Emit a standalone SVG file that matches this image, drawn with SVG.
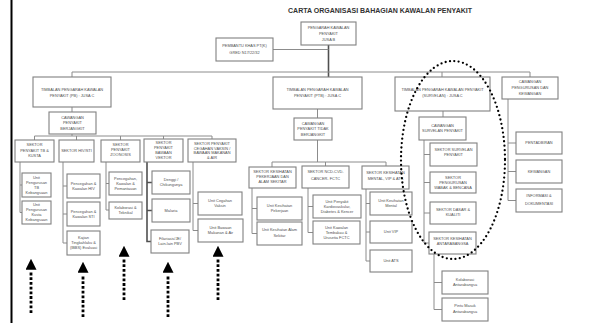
<svg xmlns="http://www.w3.org/2000/svg" width="597" height="323" viewBox="0 0 597 323">
<style>
.b{fill:#fff;stroke:#808080;stroke-width:1.1}
.t{font-family:"Liberation Sans",Arial,sans-serif;font-size:3.9px;fill:#505050;text-anchor:middle}
.c{fill:none;stroke:#8c8c8c;stroke-width:1}
.d{fill:none;stroke:#505050;stroke-width:1.6}
.ar{fill:none;stroke:#000;stroke-width:2.8;stroke-dasharray:2.8 1.9}
.title{font-family:"Liberation Sans",Arial,sans-serif;font-size:7px;font-weight:bold;fill:#333}
</style>
<defs>
<marker id="ah" markerUnits="userSpaceOnUse" markerWidth="11" markerHeight="11" viewBox="0 0 10 10" refX="-2" refY="5" orient="auto"><path d="M0,0 L10,5 L0,10 z" fill="#000"/></marker>
</defs>
<rect width="597" height="323" fill="#fff"/>
<line x1="11.5" y1="0" x2="11.5" y2="323" stroke="#000" stroke-width="2"/>
<text class="title" x="288" y="12.5" textLength="184" lengthAdjust="spacingAndGlyphs">CARTA ORGANISASI BAHAGIAN KAWALAN PENYAKIT</text>

<g id="connectors">
<path class="d" d="M328.5,45 V77"/>
<path class="c" d="M273,49.5 H328.5"/>
<path class="c" d="M72,77 V72 H530 V77 M442,72 V77"/>
<path class="c" d="M72,107 V112 M72,134 V136 M34.5,140 V136 H212 V139 M76.5,136 V140 M120.5,136 V140 M163.5,136 V139"/>
<path class="c" d="M20,162 V212.5 H22 M20,185 H22"/>
<path class="c" d="M63,162 V243 H67 M63,186 H67 M63,214 H67"/>
<path class="c" d="M106,162 V210 H109 M106,183.5 H109"/>
<path class="d" d="M147,162 V241.5 H151 M147,182.5 H152 M147,210.5 H152"/>
<path class="c" d="M193,162 V230.5 H198 M193,203.5 H198"/>
<path class="c" d="M317.5,109 V118 M317.5,140 V162 M272,167 V162 H386 V166 M325.5,162 V166"/>
<path class="c" d="M252,188 V233.5 H257 M252,208.5 H257"/>
<path class="c" d="M308,188 V232.5 H313 M308,206.5 H313"/>
<path class="c" d="M366,189 V261 H370 M366,203.5 H370 M366,232 H370"/>
<path class="c" d="M443,111 V117 M424,140 V243 H429 M424,154.5 H430 M424,182.5 H430 M424,213 H430"/>
<path class="c" d="M434,254 V309.5 H442 M434,282.5 H442"/>
<path class="c" d="M508,99 V200.5 H516 M508,143 H516 M508,171.5 H516"/>
</g>

<g id="pengarah"><rect class="b" x="301" y="22" width="55" height="23"/><text class="t"><tspan x="328.5" y="28.9">PENGARAH KAWALAN</tspan><tspan x="328.5" y="34.9">PENYAKIT</tspan><tspan x="328.5" y="40.9">JUSA B</tspan></text></g>
<g id="pembantu"><rect class="b" x="216" y="38" width="57" height="23"/><text class="t"><tspan x="244.5" y="46.9">PEMBANTU KHAS PT(K)</tspan><tspan x="244.5" y="53.9">GRED N17/22/32</tspan></text></g>
<g id="tpb"><rect class="b" x="33" y="77" width="78" height="30"/><text class="t"><tspan x="72" y="90.9">TIMBALAN PENGARAH KAWALAN</tspan><tspan x="72" y="96.9">PENYAKIT (PB) : JUSA C</tspan></text></g>
<g id="tptb"><rect class="b" x="273" y="77" width="89" height="32"/><text class="t"><tspan x="317.5" y="90.7">TIMBALAN PENGARAH KAWALAN</tspan><tspan x="317.5" y="96.5">PENYAKIT (PTB) : JUSA C</tspan></text></g>
<g id="tsurv"><rect class="b" x="395" y="77" width="95" height="34"/><text class="t"><tspan x="442.5" y="90.7">TIMBALAN PENGARAH KAWALAN PENYAKIT</tspan><tspan x="442.5" y="96.5">(SURVELAN) : JUSA C</tspan></text></g>
<g id="cpk"><rect class="b" x="502" y="77" width="56" height="22"/><text class="t"><tspan x="530" y="83.1">CAWANGAN</tspan><tspan x="530" y="89.1">PENGURUSAN DAN</tspan><tspan x="530" y="94.7">KEWANGAN</tspan></text></g>

<g id="cpb"><rect class="b" x="49" y="112" width="47" height="22"/><text class="t"><tspan x="72.5" y="118.9">CAWANGAN</tspan><tspan x="72.5" y="124.4">PENYAKIT</tspan><tspan x="72.5" y="129.9">BERJANGKIT</tspan></text></g>
<g id="s-tb"><rect class="b" x="15" y="140" width="39" height="22"/><text class="t"><tspan x="34.5" y="146.4">SEKTOR</tspan><tspan x="34.5" y="151.9">PENYAKIT TB &amp;</tspan><tspan x="34.5" y="157.4">KUSTA</tspan></text></g>
<g id="s-hiv"><rect class="b" x="59" y="140" width="35" height="22"/><text class="t"><tspan x="76.5" y="152.4">SEKTOR HIV/STI</tspan></text></g>
<g id="s-zoo"><rect class="b" x="101" y="140" width="39" height="22"/><text class="t"><tspan x="120.5" y="146.4">SEKTOR</tspan><tspan x="120.5" y="151.4">PENYAKIT</tspan><tspan x="120.5" y="156.4">ZOONOSIS</tspan></text></g>
<g id="s-vek"><rect class="b" x="144" y="139" width="39" height="23"/><text class="t"><tspan x="163.5" y="143.9">SEKTOR</tspan><tspan x="163.5" y="148.9">PENYAKIT</tspan><tspan x="163.5" y="153.9">BAWAAN</tspan><tspan x="163.5" y="158.9">VEKTOR</tspan></text></g>
<g id="s-ceg"><rect class="b" x="188" y="139" width="48" height="23"/><text class="t"><tspan x="212" y="144.7">SEKTOR PENYAKIT</tspan><tspan x="212" y="149.5">CEGAHAN VAKSIN /</tspan><tspan x="212" y="154.3">BAWAAN MAKANAN</tspan><tspan x="212" y="159.1">&amp; AIR</tspan></text></g>

<g id="u-tb1"><rect class="b" x="22" y="173" width="29" height="24"/><text class="t"><tspan x="36.5" y="178.9">Unit</tspan><tspan x="36.5" y="183.9">Pengurusan</tspan><tspan x="36.5" y="188.9">TB</tspan><tspan x="36.5" y="193.9">Kebangsaan</tspan></text></g>
<g id="u-tb2"><rect class="b" x="22" y="201" width="29" height="23"/><text class="t"><tspan x="36.5" y="206.4">Unit</tspan><tspan x="36.5" y="211.4">Pengurusan</tspan><tspan x="36.5" y="216.4">Kusta</tspan><tspan x="36.5" y="221.4">Kebangsaan</tspan></text></g>
<g id="u-hiv1"><rect class="b" x="67" y="174" width="33" height="24"/><text class="t"><tspan x="83.5" y="184.9">Pencegahan &amp;</tspan><tspan x="83.5" y="189.9">Kawalan HIV</tspan></text></g>
<g id="u-hiv2"><rect class="b" x="67" y="202" width="33" height="24"/><text class="t"><tspan x="83.5" y="212.9">Pencegahan &amp;</tspan><tspan x="83.5" y="217.9">Kawalan STI</tspan></text></g>
<g id="u-hiv3"><rect class="b" x="67" y="231" width="33" height="24"/><text class="t"><tspan x="83.5" y="239.4">Kajian</tspan><tspan x="83.5" y="244.4">Tingkahlaku &amp;</tspan><tspan x="83.5" y="249.4">(IBBS) Evaluasi</tspan></text></g>
<g id="u-zoo1"><rect class="b" x="109" y="172" width="33" height="23"/><text class="t"><tspan x="125.5" y="179.9">Pencegahan,</tspan><tspan x="125.5" y="184.9">Kawalan &amp;</tspan><tspan x="125.5" y="189.9">Pemantauan</tspan></text></g>
<g id="u-zoo2"><rect class="b" x="109" y="202" width="33" height="17"/><text class="t"><tspan x="125.5" y="209.4">Kolaborasi &amp;</tspan><tspan x="125.5" y="214.4">Teknikal</tspan></text></g>
<g id="u-vek1"><rect class="b" x="152" y="171" width="38" height="23"/><text class="t"><tspan x="171" y="181.4">Denggi /</tspan><tspan x="171" y="186.4">Chikungunya</tspan></text></g>
<g id="u-vek2"><rect class="b" x="152" y="199" width="38" height="23"/><text class="t"><tspan x="171" y="211.9">Malaria</tspan></text></g>
<g id="u-vek3"><rect class="b" x="151" y="230" width="38" height="23"/><text class="t"><tspan x="170" y="240.4">Filariasis/JE/</tspan><tspan x="170" y="245.4">Lain-lain PBV</tspan></text></g>
<g id="u-ceg1"><rect class="b" x="198" y="192" width="44" height="23"/><text class="t"><tspan x="220" y="202.4">Unit Cegahan</tspan><tspan x="220" y="207.4">Vaksin</tspan></text></g>
<g id="u-ceg2"><rect class="b" x="198" y="219" width="45" height="23"/><text class="t"><tspan x="220.5" y="229.4">Unit Bawaan</tspan><tspan x="220.5" y="234.4">Makanan &amp; Air</tspan></text></g>

<g id="cptb"><rect class="b" x="294" y="118" width="38" height="22"/><text class="t"><tspan x="313" y="124.9">CAWANGAN</tspan><tspan x="313" y="130.4">PENYAKIT TIDAK</tspan><tspan x="313" y="135.9">BERJANGKIT</tspan></text></g>
<g id="s-pek"><rect class="b" x="249" y="167" width="47" height="21"/><text class="t"><tspan x="272.5" y="172.9">SEKTOR KESIHATAN</tspan><tspan x="272.5" y="177.9">PEKERJAAN DAN</tspan><tspan x="272.5" y="182.9">ALAM SEKITAR</tspan></text></g>
<g id="s-ncd"><rect class="b" x="302" y="166" width="47" height="22"/><text class="t"><tspan x="325.5" y="173.1">SEKTOR NCD-CVD-</tspan><tspan x="325.5" y="179.7">CANCER- FCTC</tspan></text></g>
<g id="s-men"><rect class="b" x="362" y="166" width="47" height="23"/><text class="t"><tspan x="385.5" y="173.7">SEKTOR KESIHATAN</tspan><tspan x="385.5" y="180.3">MENTAL, VIP &amp; ATS</tspan></text></g>
<g id="u-pek1"><rect class="b" x="257" y="197" width="45" height="23"/><text class="t"><tspan x="279.5" y="207.4">Unit Kesihatan</tspan><tspan x="279.5" y="212.4">Pekerjaan</tspan></text></g>
<g id="u-pek2"><rect class="b" x="257" y="222" width="45" height="23"/><text class="t"><tspan x="279.5" y="231.4">Unit Kesihatan Alam</tspan><tspan x="279.5" y="237.1">Sekitar</tspan></text></g>
<g id="u-ncd1"><rect class="b" x="313" y="195" width="48" height="23"/><text class="t"><tspan x="337" y="202.9">Unit Penyakit</tspan><tspan x="337" y="207.9">Kardiovaskular,</tspan><tspan x="337" y="212.9">Diabetes &amp; Kencer</tspan></text></g>
<g id="u-ncd2"><rect class="b" x="313" y="221" width="47" height="23"/><text class="t"><tspan x="336.5" y="228.9">Unit Kawalan</tspan><tspan x="336.5" y="233.9">Tembakau &amp;</tspan><tspan x="336.5" y="238.9">Urusetia FCTC</tspan></text></g>
<g id="u-men1"><rect class="b" x="370" y="192" width="42" height="23"/><text class="t"><tspan x="391" y="202.4">Unit Kesihatan</tspan><tspan x="391" y="207.4">Mental</tspan></text></g>
<g id="u-men2"><rect class="b" x="370" y="221" width="42" height="22"/><text class="t"><tspan x="391" y="233.4">Unit VIP</tspan></text></g>
<g id="u-men3"><rect class="b" x="370" y="250" width="42" height="22"/><text class="t"><tspan x="391" y="262.4">Unit ATS</tspan></text></g>

<g id="csp"><rect class="b" x="419" y="117" width="47" height="23"/><text class="t"><tspan x="442.5" y="127.4">CAWANGAN</tspan><tspan x="442.5" y="132.4">SURVELAN PENYAKIT</tspan></text></g>
<g id="s-sp"><rect class="b" x="430" y="143" width="47" height="23"/><text class="t"><tspan x="453.5" y="151.4">SEKTOR SURVELAN</tspan><tspan x="453.5" y="156.4">PENYAKIT</tspan></text></g>
<g id="s-wab"><rect class="b" x="430" y="172" width="46" height="21"/><text class="t"><tspan x="453" y="178.7">SEKTOR</tspan><tspan x="453" y="184.1">PENGURUSAN</tspan><tspan x="453" y="189.1">WABAK &amp; BENCANA</tspan></text></g>
<g id="s-das"><rect class="b" x="430" y="202" width="46" height="22"/><text class="t"><tspan x="453" y="210.7">SEKTOR DASAR &amp;</tspan><tspan x="453" y="216.4">KUALITI</tspan></text></g>
<g id="s-ant"><rect class="b" x="429" y="232" width="47" height="22"/><text class="t"><tspan x="452.5" y="239.7">SEKTOR KESIHATAN</tspan><tspan x="452.5" y="245.4">ANTARABANGSA</tspan></text></g>
<g id="u-ant1"><rect class="b" x="442" y="271" width="46" height="23"/><text class="t"><tspan x="465" y="280.7">Kolaborasi</tspan><tspan x="465" y="286.4">Antarabangsa</tspan></text></g>
<g id="u-ant2"><rect class="b" x="442" y="298" width="46" height="23"/><text class="t"><tspan x="465" y="307.4">Pintu Masuk</tspan><tspan x="465" y="313.1">Antarabangsa</tspan></text></g>
<g id="u-pen"><rect class="b" x="516" y="132" width="46" height="22"/><text class="t"><tspan x="539" y="144.4">PENTADBIRAN</tspan></text></g>
<g id="u-kew"><rect class="b" x="516" y="160" width="46" height="23"/><text class="t"><tspan x="539" y="172.9">KEWANGAN</tspan></text></g>
<g id="u-inf"><rect class="b" x="516" y="189" width="46" height="23"/><text class="t"><tspan x="539" y="197.4">INFORMASI &amp;</tspan><tspan x="539" y="204.7">DOKUMENTASI</tspan></text></g>

<g id="highlight">
<ellipse cx="453" cy="160" rx="52" ry="99" fill="none" stroke="#000" stroke-width="2.3" stroke-linecap="round" stroke-dasharray="0 4.4"/>
</g>
<g id="arrows">
<line class="ar" x1="31" y1="313" x2="31" y2="272" marker-end="url(#ah)"/>
<line class="ar" x1="83" y1="317" x2="83" y2="275" marker-end="url(#ah)"/>
<line class="ar" x1="124" y1="300" x2="124" y2="259" marker-end="url(#ah)"/>
<line class="ar" x1="168" y1="317" x2="168" y2="275" marker-end="url(#ah)"/>
<line class="ar" x1="218" y1="300" x2="218" y2="259" marker-end="url(#ah)"/>
</g>
</svg>
